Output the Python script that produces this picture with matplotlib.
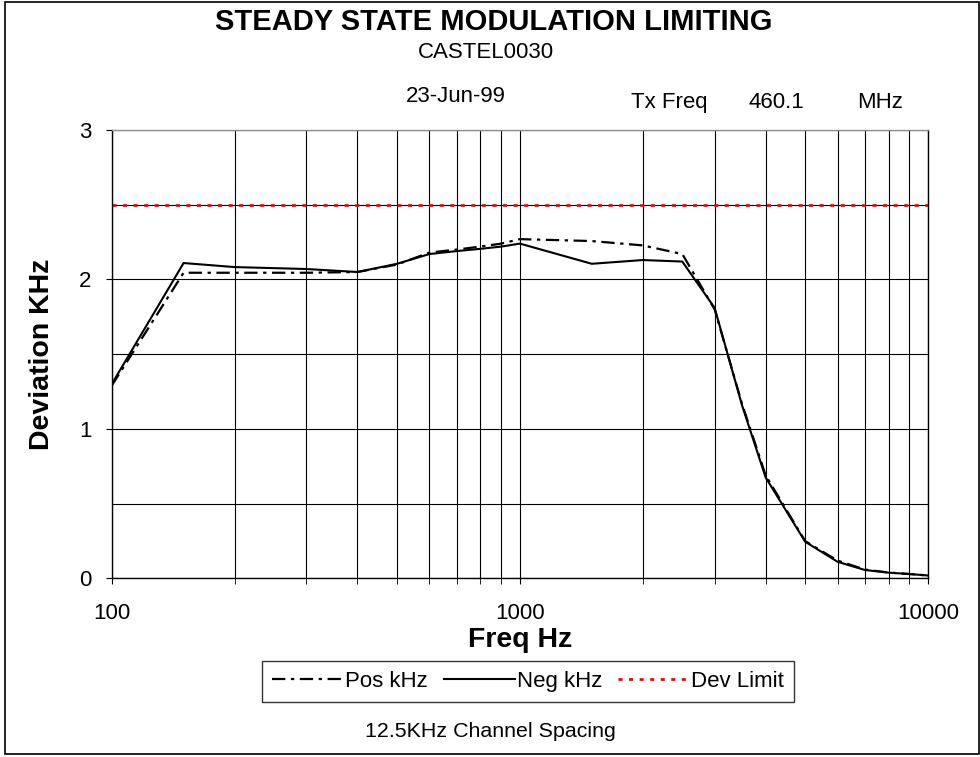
import matplotlib.pyplot as plt
from matplotlib.patches import Rectangle
from matplotlib.ticker import FixedLocator, NullFormatter

plt.rcParams['font.family'] = ['Liberation Sans', 'DejaVu Sans']

# frequency points (Hz)
freq = [100, 150, 200, 300, 400, 500, 600, 700, 800, 900, 1000,
        1500, 2000, 2500, 3000, 3500, 4000, 5000, 6000, 7000, 8000, 9000, 10000]
pos_khz = [1.29, 2.045, 2.045, 2.045, 2.05, 2.10, 2.18, 2.20, 2.22, 2.24, 2.27,
           2.257, 2.228, 2.17, 1.80, 1.17, 0.69, 0.25, 0.12, 0.06, 0.04, 0.03, 0.02]
neg_khz = [1.30, 2.11, 2.083, 2.07, 2.05, 2.105, 2.17, 2.19, 2.205, 2.22, 2.24,
           2.105, 2.13, 2.12, 1.81, 1.16, 0.676, 0.246, 0.112, 0.057, 0.039, 0.03, 0.02]
dev_limit = [2.5] * len(freq)

fig = plt.figure(figsize=(9.8, 7.57), dpi=100)
ax = fig.add_axes([0.114, 0.2358, 0.833, 0.5925])

ax.plot(freq, pos_khz, color='black', lw=1.6, dashes=(6, 2.5, 1.5, 2.5), label='Pos kHz')
ax.plot(freq, neg_khz, color='black', lw=1.5, label='Neg kHz')
ax.plot(freq, dev_limit, color='red', lw=2, dashes=(1.45, 2.35), label='Dev Limit')

ax.set_xscale('log')
ax.set_xlim(100, 10000)
ax.set_ylim(0, 3)
ax.set_xticks([100, 1000, 10000])
ax.set_xticklabels(['100', '1000', '10000'])
ax.xaxis.set_minor_locator(FixedLocator([m * d for d in (100, 1000) for m in range(2, 10)]))
ax.xaxis.set_minor_formatter(NullFormatter())
ax.set_yticks([0, 1, 2, 3])
ax.set_yticks([0.5, 1.5, 2.5], minor=True)
ax.grid(True, which='both', color='black', lw=0.8)
ax.set_axisbelow(True)
ax.tick_params(axis='both', which='major', labelsize=16, length=4.5, direction='out')
ax.tick_params(axis='x', which='major', pad=13)
ax.tick_params(axis='y', which='major', pad=10)
ax.tick_params(axis='x', which='minor', length=4.5, direction='out')
ax.tick_params(axis='y', which='minor', length=0)
ax.set_xlabel('Freq Hz', fontsize=20.5, fontweight='bold', va='center')
ax.set_ylabel('Deviation KHz', fontsize=20.5, fontweight='bold', va='center')
ax.xaxis.set_label_coords(0.5, -0.137)
ax.yaxis.set_label_coords(-0.0854, 0.5)
for s in ax.spines.values():
    s.set_linewidth(1.0)
ax.spines['top'].set_color('#909090')

leg = ax.legend(loc='center', bbox_to_anchor=(0.51, -0.229), ncol=3, fontsize=16,
                frameon=True, fancybox=False, edgecolor='black', handlelength=3.2,
                handletextpad=0.1, columnspacing=0.7, borderpad=0.45, borderaxespad=0)
leg.get_frame().set_linewidth(1.0)

fig.text(0.504, 0.971, 'STEADY STATE MODULATION LIMITING', ha='center', va='center',
         fontsize=21, fontweight='bold')
fig.text(0.496, 0.931, 'CASTEL0030', ha='center', va='center', fontsize=16)
fig.text(0.465, 0.872, '23-Jun-99', ha='center', va='center', fontsize=16)
fig.text(0.683, 0.864, 'Tx Freq', ha='center', va='center', fontsize=16)
fig.text(0.792, 0.864, '460.1', ha='center', va='center', fontsize=16)
fig.text(0.898, 0.864, 'MHz', ha='center', va='center', fontsize=16)
fig.text(0.5, 0.034, '12.5KHz Channel Spacing', ha='center', va='center', fontsize=15.4)

fig.patches.append(Rectangle((0.005, 0.004), 0.994, 0.994, transform=fig.transFigure,
                             fill=False, edgecolor='black', lw=1.2))

fig.savefig('out.png', dpi=100)
